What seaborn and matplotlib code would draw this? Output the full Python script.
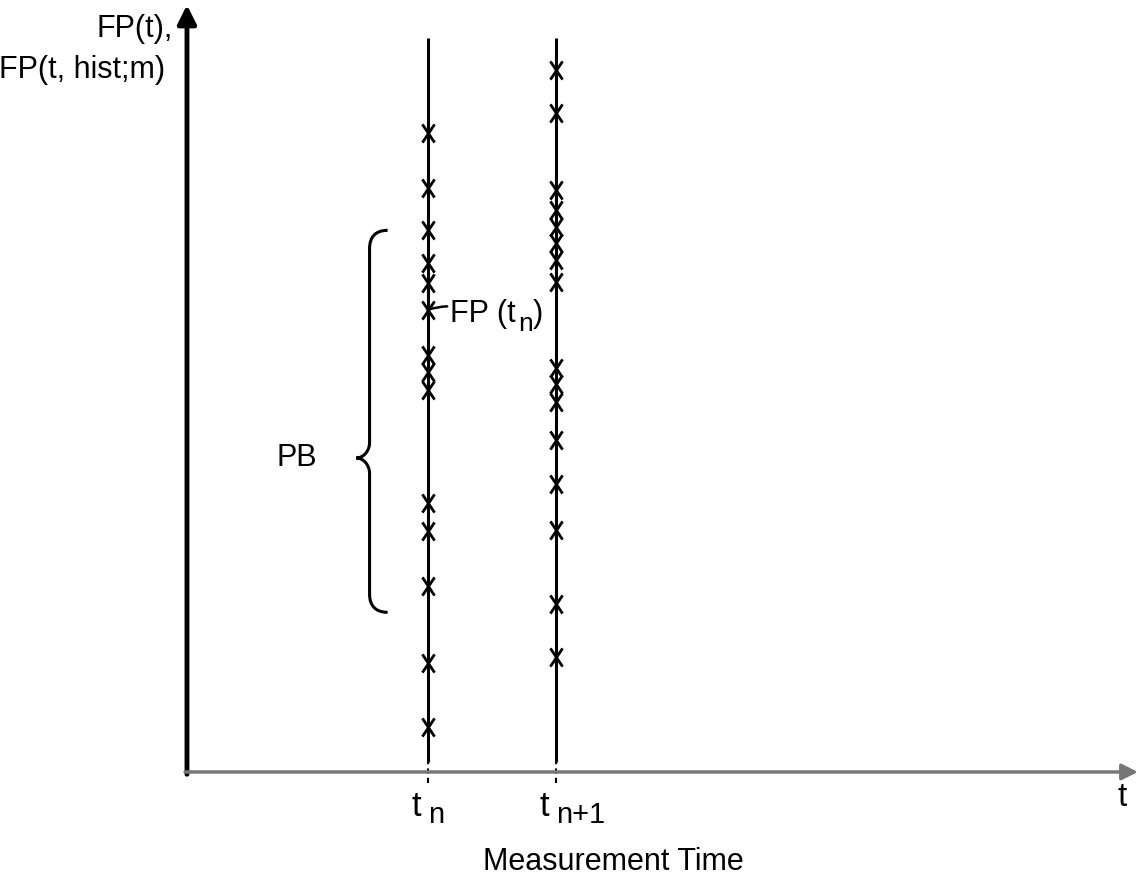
# FP(t) measurement time diagram
import numpy as np
import pandas as pd
import matplotlib.pyplot as plt
import seaborn as sns
from matplotlib.path import Path
from matplotlib.patches import PathPatch
from matplotlib.markers import MarkerStyle
from matplotlib.transforms import Affine2D

# Data (arbitrary units: time axis 0..100, FP axis 0..100)
time_labels = ["n", "n+1"]
time_positions = [25.3, 38.8]

fp_tn = [83.6, 76.4, 70.9, 66.6, 64.0, 60.5, 54.6, 52.4, 50.0,
         35.2, 31.5, 24.3, 14.3, 5.9]
fp_tn1 = [91.9, 86.3, 76.2, 73.6, 71.3, 69.2, 67.0, 64.1, 52.9,
          50.8, 48.4, 43.5, 37.7, 31.7, 22.0, 15.0]

pb_low, pb_tip, pb_high = 20.9, 41.1, 70.9
labelled_point = 5  # index of FP(t_n) in fp_tn

line_top, line_bottom = 96.1, 1.3

df = pd.DataFrame({
    "t": [time_positions[0]] * len(fp_tn) + [time_positions[1]] * len(fp_tn1),
    "fp": fp_tn + fp_tn1,
})

sns.set_style("white")
plt.rcParams["font.family"] = ["Liberation Sans", "DejaVu Sans"]
plt.rcParams["text.color"] = "black"

fig = plt.figure(figsize=(11.38, 8.8), dpi=100)
ax = fig.add_axes([0, 0, 1, 1])
ax.set_xlim(-19.66, 100)
ax.set_ylim(-14.14, 101.05)
ax.axis("off")

# axes with arrows
ax.annotate("", xy=(0, 100.4), xytext=(0, -0.3),
            arrowprops=dict(arrowstyle="-|>", lw=3.5, color="black",
                            mutation_scale=28, shrinkA=0, shrinkB=0))
ax.annotate("", xy=(100, 0), xytext=(-0.2, 0),
            arrowprops=dict(arrowstyle="-|>", lw=2.5, color="#777777",
                            mutation_scale=24, shrinkA=0, shrinkB=0))

# vertical measurement lines
ax.vlines(time_positions, line_bottom, line_top, color="black", lw=2.2)
ax.vlines(time_positions, -1.4, line_bottom, color="black", lw=1.5,
          linestyles=(0, (2.5, 2)))

# FP marks (tall narrow x)
tall_x = MarkerStyle("x", transform=Affine2D().scale(0.8, 1.2))
sns.scatterplot(data=df, x="t", y="fp", marker=tall_x, s=120, color="black",
                linewidth=2.0, ax=ax, legend=False, zorder=5)

# axis labels
ax.text(-1.47, 96.2, "FP(t),", ha="right", va="baseline", fontsize=22)
ax.text(-2.31, 90.8, "FP(t, hist;m)", ha="right", va="baseline", fontsize=22)
ax.text(98.3, -1.3, "t", ha="center", va="top", fontsize=24)
ax.text(31.1, -12.8, "Measurement Time", ha="left", va="baseline", fontsize=22)

# time tick labels
for x, lab in zip(time_positions, time_labels):
    ax.text(x - 0.7, -2.3, "t", ha="right", va="top", fontsize=25)
    ax.text(x + 0.0, -3.8, lab, ha="left", va="top", fontsize=21)

# FP(t_n) label with leader
ax.annotate("FP (t",
            xy=(time_positions[0], fp_tn[labelled_point]),
            xytext=(time_positions[0] + 2.4, fp_tn[labelled_point] - 0.6),
            ha="left", va="center", fontsize=22,
            arrowprops=dict(arrowstyle="-", lw=1.8, color="black",
                            shrinkA=0, shrinkB=0,
                            connectionstyle="arc3,rad=0.2"))
ax.text(time_positions[0] + 9.5, fp_tn[labelled_point] - 1.8, "n",
        ha="left", va="center", fontsize=19)
ax.text(time_positions[0] + 11.1, fp_tn[labelled_point] - 0.6, ")",
        ha="left", va="center", fontsize=22)

# PB brace
xs, xm, xt = time_positions[0] - 4.2, time_positions[0] - 6.1, time_positions[0] - 7.5
verts = [
    (xs, pb_high),
    (xm + 0.6, pb_high), (xm, pb_high - 0.9), (xm, pb_high - 2.4),
    (xm, pb_tip + 2.0),
    (xm, pb_tip + 1.0), (xt + 0.8, pb_tip), (xt, pb_tip),
    (xt + 0.8, pb_tip), (xm, pb_tip - 1.0), (xm, pb_tip - 2.0),
    (xm, pb_low + 2.4),
    (xm, pb_low + 0.9), (xm + 0.6, pb_low), (xs, pb_low),
]
codes = [Path.MOVETO,
         Path.CURVE4, Path.CURVE4, Path.CURVE4,
         Path.LINETO,
         Path.CURVE4, Path.CURVE4, Path.CURVE4,
         Path.CURVE4, Path.CURVE4, Path.CURVE4,
         Path.LINETO,
         Path.CURVE4, Path.CURVE4, Path.CURVE4]
ax.add_patch(PathPatch(Path(verts, codes), fill=False, lw=2.2, color="black"))
ax.text(xt - 4.1, pb_tip, "PB", ha="right", va="center", fontsize=22)

fig.savefig("out.png", dpi=100)
